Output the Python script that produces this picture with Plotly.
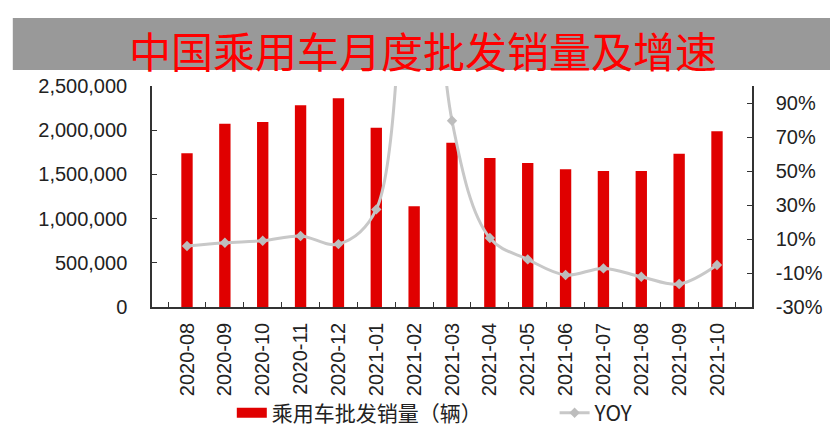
import plotly.graph_objects as go

# monthly data
months = ['2020-08', '2020-09', '2020-10', '2020-11', '2020-12', '2021-01', '2021-02',
          '2021-03', '2021-04', '2021-05', '2021-06', '2021-07', '2021-08', '2021-09', '2021-10']
sales = [1740000, 2073000, 2093000, 2281000, 2361000, 2029000, 1139000,
         1859000, 1686000, 1629000, 1557000, 1538000, 1538000, 1734000, 1987000]
yoy = [5.9, 7.8, 9.0, 11.8, 7.0, 27.4, 370.0,
       79.6, 10.6, -2.0, -11.2, -7.3, -12.2, -16.5, -5.3]

left_ticks = [0, 500000, 1000000, 1500000, 2000000, 2500000]
right_ticks = [-30, -10, 10, 30, 50, 70, 90]
right_labels = [str(v) + '%' for v in right_ticks]

title_text = '中国乘用车月度批发销量及增速'
bar_name = '乘用车批发销量（辆）'
line_name = 'YOY'

RED = '#e00000'
GREY = '#c8c8c8'
AXIS = '#333333'
TICK_FONT = dict(family='Liberation Sans, Arial, sans-serif', size=20, color='#222222')
LEG_FONT = dict(family='Noto Sans CJK SC, Liberation Sans, sans-serif', size=21, color='#222222')

fig = go.Figure()

# bars (legend entry drawn by a dummy trace so it looks like a wide strip)
fig.add_trace(go.Bar(
    x=months, y=sales, name=bar_name,
    marker=dict(color=RED, line=dict(width=0)),
    width=0.3, showlegend=False, yaxis='y'
))
fig.add_trace(go.Scatter(
    x=[None], y=[None], mode='lines', name=bar_name,
    line=dict(color=RED, width=10), legend='legend'
))

# yoy line on the right axis, own legend box so the two entries sit far apart
fig.add_trace(go.Scatter(
    x=months, y=yoy, name=line_name, yaxis='y2',
    mode='lines+markers',
    line=dict(color=GREY, width=3, shape='spline', smoothing=1),
    marker=dict(symbol='diamond', size=8, color='#bdbdbd'),
    legend='legend2'
))

# the page body has an 8px margin, so the figure is 8px smaller and offset
fig.update_layout(
    width=830, height=438, autosize=False,
    margin=dict(l=144, r=86, t=78, b=139),
    paper_bgcolor='white', plot_bgcolor='white',
    xaxis=dict(
        type='category', tickangle=-90, tickfont=TICK_FONT,
        ticks='inside', tickson='boundaries', ticklen=5, tickcolor=AXIS,
        showline=True, linecolor=AXIS, linewidth=1.5,
        showgrid=False, ticklabelstandoff=6
    ),
    yaxis=dict(
        range=[0, 2500000], tickvals=left_ticks, tickformat=',',
        tickfont=TICK_FONT, ticks='inside', ticklen=5, tickcolor=AXIS,
        showline=True, linecolor=AXIS, linewidth=1.5,
        showgrid=False, zeroline=False, ticklabelstandoff=19
    ),
    yaxis2=dict(
        overlaying='y', side='right', range=[-30, 100],
        tickvals=right_ticks, ticktext=right_labels,
        tickfont=TICK_FONT, ticks='inside', ticklen=5, tickcolor=AXIS,
        showline=True, linecolor=AXIS, linewidth=1.5,
        showgrid=False, zeroline=False, ticklabelstandoff=18
    ),
    legend=dict(
        orientation='h', x=0.133, xanchor='left', y=-0.48, yanchor='middle',
        font=LEG_FONT, itemwidth=30, bgcolor='rgba(0,0,0,0)'
    ),
    legend2=dict(
        orientation='h', x=0.671, xanchor='left', y=-0.48, yanchor='middle',
        font=LEG_FONT, itemwidth=30, bgcolor='rgba(0,0,0,0)'
    ),
    shapes=[dict(
        type='rect', xref='paper', yref='paper',
        x0=-0.232, x1=1.135, y0=1.072, y1=1.308,
        fillcolor='#999999', line=dict(width=0), layer='below'
    )],
    annotations=[dict(
        text=title_text, xref='paper', yref='paper',
        x=0.452, y=1.165, xanchor='center', yanchor='middle',
        showarrow=False,
        font=dict(family='Noto Sans CJK SC, sans-serif', size=42, color='#ff0000')
    )]
)

fig.write_html('out.html')
